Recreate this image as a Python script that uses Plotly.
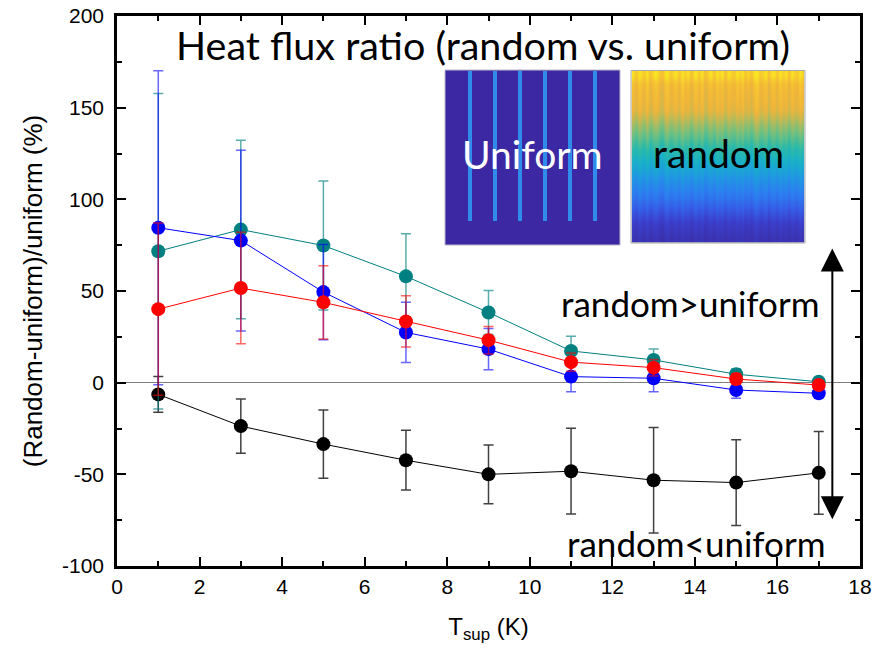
import plotly.graph_objects as go

# ---------------- data ----------------
T_sup = [1, 3, 5, 7, 9, 11, 13, 15, 17]

blue = [84.5, 77.5, 49.4, 27.4, 18.3, 3.3, 2.4, -4.0, -5.8]
blue_err = [85.6, 49.3, 26.0, 16.4, 11.3, 8.2, 7.3, 4.5, 2.0]

teal = [71.7, 83.5, 74.8, 58.0, 38.3, 17.3, 12.4, 4.6, 0.5]
teal_err = [86.0, 48.7, 35.2, 23.2, 12.0, 8.0, 6.0, 3.0, 1.5]

red = [40.1, 51.6, 43.8, 33.4, 23.2, 11.2, 8.2, 2.0, -1.3]
red_err = [47.0, 30.4, 20.0, 14.0, 7.5, 5.0, 4.5, 3.0, 2.0]

black = [-6.4, -23.7, -33.5, -42.3, -50.0, -48.3, -53.2, -54.5, -49.2]
black_err = [9.7, 14.8, 18.6, 16.3, 16.0, 23.4, 28.8, 23.4, 22.6]

x_ticks = [0, 2, 4, 6, 8, 10, 12, 14, 16, 18]
x_ticktext = ["0", "2", "4", "6", "8", "10", "12", "14", "16", "18"]
y_ticks = [-100, -50, 0, 50, 100, 150, 200]
y_ticktext = ["-100", "-50", "0", "50", "100", "150", "200"]

# decorative inset ("random" field): vertical profile (bottom -> top) and column streaks
random_profile = [0.03, 0.06, 0.10, 0.16, 0.22, 0.28, 0.33, 0.38, 0.44, 0.50,
                  0.56, 0.62, 0.68, 0.74, 0.80, 0.86, 0.88, 0.89, 0.91, 0.97]
random_streaks = [0.02, -0.03, 0.04, 0.0, -0.02, 0.05, -0.04, 0.01, 0.03, -0.01,
                  -0.05, 0.02, 0.04, -0.02, 0.0, 0.03, -0.03, 0.05, -0.01, 0.02,
                  -0.04, 0.01, 0.03, -0.02, 0.04, -0.05, 0.0, 0.02, -0.03, 0.04,
                  -0.01, 0.03, -0.04, 0.02, 0.0, -0.02, 0.03, -0.01, 0.04, -0.03,
                  0.01, -0.04, 0.02, 0.05, -0.02, 0.0, 0.03, -0.05, 0.01, 0.02,
                  -0.03, 0.04, -0.01, 0.02, -0.04, 0.03, 0.0, -0.02, 0.04, -0.01]

# ---------------- figure ----------------
fig = go.Figure()

series = [
    (black, black_err, "#000000", "rgba(0,0,0,0.75)"),
    (teal, teal_err, "#008080", "rgba(0,128,128,0.65)"),
    (blue, blue_err, "#0000FF", "rgba(0,0,255,0.6)"),
    (red, red_err, "#FF0000", "rgba(255,0,0,0.6)"),
]
for vals, errs, col, ecol in series:
    fig.add_trace(go.Scatter(
        x=T_sup, y=vals, mode="lines+markers",
        line=dict(color=col, width=1),
        marker=dict(color=col, size=14, line=dict(width=0)),
        error_y=dict(type="data", array=errs, visible=True, color=ecol,
                     thickness=1.5, width=5),
        showlegend=False, cliponaxis=False,
    ))

# random inset as heatmap
zmat = []
for i, p in enumerate(random_profile):
    k = 0.6 + 0.6 * i / (len(random_profile) - 1)
    zmat.append([min(1.0, max(0.0, p + k * s)) for s in random_streaks])
parula_like = [
    [0.0, "#3A2FA8"], [0.1, "#3B3FCC"], [0.2, "#3560E8"], [0.3, "#2C7EF0"],
    [0.4, "#1F9AE0"], [0.5, "#18B0C8"], [0.6, "#2DBAA8"], [0.7, "#70C080"],
    [0.8, "#C0BA55"], [0.88, "#F0B43A"], [0.95, "#F7C830"], [1.0, "#F8E820"],
]
fig.add_trace(go.Heatmap(
    z=zmat, colorscale=parula_like, zmin=0, zmax=1, zsmooth="best",
    showscale=False, xaxis="x2", yaxis="y2", hoverinfo="skip",
))

L, R, TOP, B = 117, 18, 16, 85
W, H = 878, 651
PW, PH = W - L - R, H - TOP - B


def px(xp):
    return (xp - L) / PW


def py(yp):
    return (H - B - yp) / PH


shapes = []
# uniform inset
shapes.append(dict(type="rect", xref="paper", yref="paper",
                   x0=px(445), x1=px(620), y0=py(245), y1=py(70),
                   fillcolor="#3C28A2", line=dict(color="#B8B8C8", width=1), layer="above"))
for c in [470, 495, 520, 545, 570, 595]:
    shapes.append(dict(type="line", xref="paper", yref="paper",
                       x0=px(c), x1=px(c), y0=py(221), y1=py(71),
                       line=dict(color="#2F8CEA", width=4), layer="above"))
# random inset border
shapes.append(dict(type="rect", xref="paper", yref="paper",
                   x0=px(631), x1=px(805), y0=py(243), y1=py(70.5),
                   fillcolor="rgba(0,0,0,0)", line=dict(color="#A8A8A8", width=1), layer="above"))

txtfont = "Lato, Calibri, Carlito, sans-serif"


def label(text, xp, yp, size, color="black"):
    return dict(text=text, x=px(xp), y=py(yp), xref="paper", yref="paper",
                xanchor="center", yanchor="middle", showarrow=False,
                font=dict(family=txtfont, size=size, color=color))


annotations = [
    label("Heat flux ratio (random vs. uniform)", 483, 44, 39.5),
    label("Uniform", 532, 154, 39, "white"),
    label("random", 718, 153, 39),
    label("random>uniform", 690, 303, 35),
    label("random<uniform", 696, 543, 35),
    dict(text="", x=17.33, y=-74.5, ax=17.33, ay=74.0, xref="x", yref="y",
         axref="x", ayref="y", showarrow=True, arrowside="end+start",
         arrowhead=2, arrowsize=2.3, arrowwidth=2, arrowcolor="black", standoff=0,
         startstandoff=0, startarrowhead=2, startarrowsize=2.3),
]

axis_font = dict(family="Arial, Liberation Sans, sans-serif", size=21, color="black")

fig.update_layout(
    width=W, height=H,
    margin=dict(l=L, r=R, t=TOP, b=B),
    paper_bgcolor="white", plot_bgcolor="white",
    shapes=shapes, annotations=annotations,
    xaxis=dict(range=[0, 18], tickvals=x_ticks, ticktext=x_ticktext, ticks="inside", ticklen=9,
               tickwidth=2, tickcolor="black", showline=True, linewidth=2.5,
               linecolor="black", mirror="allticks", showgrid=False, zeroline=False,
               automargin=False,
               minor=dict(dtick=1, tick0=0, ticks="inside", ticklen=5, tickwidth=2,
                          tickcolor="black", showgrid=False),
               tickfont=axis_font,
               title=dict(text="T<sub>sup</sub> (K)", font=dict(
                   family="Arial, Liberation Sans, sans-serif", size=24, color="black"),
                   standoff=22)),
    yaxis=dict(range=[-100, 200], tickvals=y_ticks, ticktext=y_ticktext, ticks="inside", ticklen=9,
               tickwidth=2, tickcolor="black", showline=True, linewidth=2.5,
               linecolor="black", mirror="allticks", showgrid=False,
               zeroline=True, zerolinecolor="#808080", zerolinewidth=1.2,
               automargin=False,
               minor=dict(dtick=25, tick0=0, ticks="inside", ticklen=5, tickwidth=2,
                          tickcolor="black", showgrid=False),
               tickfont=axis_font, ticklabelstandoff=6,
               title=dict(text="(Random-uniform)/uniform (%)", font=dict(
                   family="Arial, Liberation Sans, sans-serif", size=26, color="black"),
                   standoff=12)),
    xaxis2=dict(domain=[px(631.5), px(804.5)], anchor="y2", visible=False,
                range=[-0.5, len(random_streaks) - 0.5], fixedrange=True),
    yaxis2=dict(domain=[py(242.5), py(71)], anchor="x2", visible=False,
                range=[-0.5, len(random_profile) - 0.5], fixedrange=True),
)

fig.write_html("out.html")
